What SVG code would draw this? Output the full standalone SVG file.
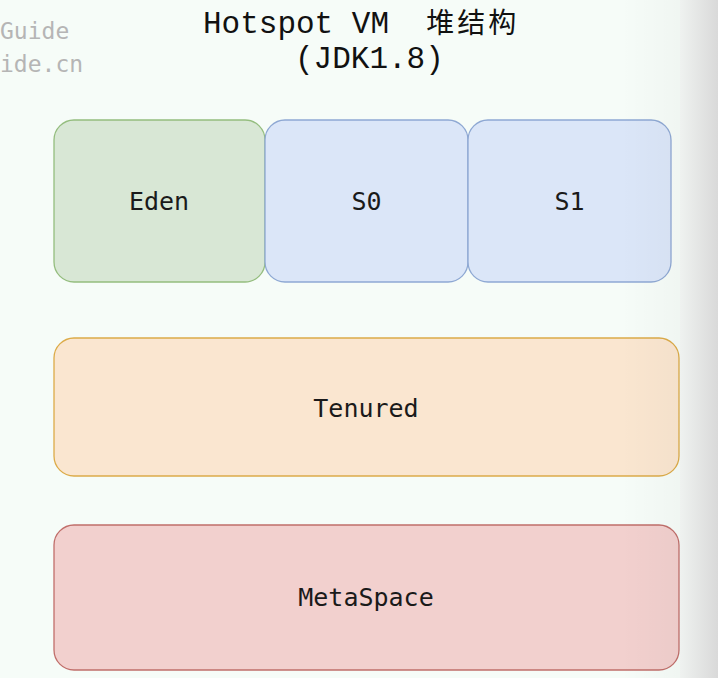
<svg xmlns="http://www.w3.org/2000/svg" width="718" height="678" viewBox="0 0 718 678">
<style>
.box{stroke-width:1.3}
.lbl{font-family:"DejaVu Sans Mono","Liberation Mono",monospace;font-size:25px;fill:#1a1a1a;text-anchor:middle}
.ttl{font-family:"Liberation Mono","DejaVu Sans Mono","Noto Sans CJK SC",monospace;font-size:31px;fill:#111}
.wm{font-family:"DejaVu Sans Mono","Liberation Mono",monospace;font-size:23px;fill:#b5b5b5}
</style>
<defs>
<linearGradient id="edge" x1="0" y1="0" x2="1" y2="0">
<stop offset="0" stop-color="#eff2f0"/>
<stop offset="1" stop-color="#d9d9d9"/>
</linearGradient>
<linearGradient id="fade" x1="0" y1="0" x2="1" y2="0">
<stop offset="0" stop-color="#000" stop-opacity="0"/>
<stop offset="1" stop-color="#000" stop-opacity="0.025"/>
</linearGradient>
</defs>
<rect x="0" y="0" width="718" height="678" fill="#f6fcf8"/>
<g id="watermark">
<text class="wm" x="0" y="39">Guide</text>
<text class="wm" x="0" y="72">ide.cn</text>
</g>
<g id="title">
<text class="ttl" x="203" y="33" xml:space="preserve">Hotspot VM  <tspan font-family="'Noto Sans CJK SC','Noto Sans CJK JP',sans-serif" font-size="28" letter-spacing="3">堆结构</tspan></text>
<text class="ttl" x="295" y="68" font-size="30">(JDK1.8)</text>
</g>
<g id="connectors"/>
<g id="node-eden">
<rect class="box" x="54" y="120" width="211" height="162" rx="20" fill="#d8e7d5" stroke="#94bd7e"/>
<text class="lbl" x="159" y="210">Eden</text>
</g>
<g id="node-s0">
<rect class="box" x="265" y="120" width="203" height="162" rx="20" fill="#dbe6f8" stroke="#8ea8d3"/>
<text class="lbl" x="366.5" y="210">S0</text>
</g>
<g id="node-s1">
<rect class="box" x="468" y="120" width="203" height="162" rx="20" fill="#dbe6f8" stroke="#8ea8d3"/>
<text class="lbl" x="569.5" y="210">S1</text>
</g>
<g id="node-tenured">
<rect class="box" x="54" y="338" width="625" height="138" rx="20" fill="#fae6d0" stroke="#dcab48"/>
<text class="lbl" x="366" y="417">Tenured</text>
</g>
<g id="node-metaspace">
<rect class="box" x="54" y="525" width="625" height="145" rx="20" fill="#f2d0ce" stroke="#c06e6a"/>
<text class="lbl" x="366" y="606">MetaSpace</text>
</g>
<rect x="620" y="0" width="60" height="678" fill="url(#fade)"/>
<rect x="680" y="0" width="38" height="678" fill="url(#edge)"/>
</svg>
